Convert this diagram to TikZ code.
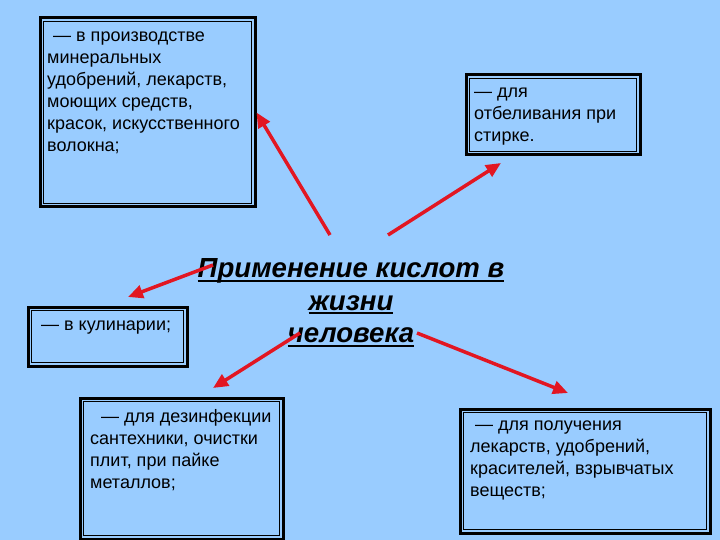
\documentclass[tikz,border=0pt]{standalone}
\usepackage{fontspec}
\setmainfont{Liberation Sans}
\usetikzlibrary{arrows.meta}

\definecolor{skyback}{RGB}{153,204,255}
\definecolor{arrowred}{RGB}{226,22,34}
%% thick underline for the title lines
\newcommand\undl[1]{\setbox0\hbox{#1}\rlap{\rule[-4pt]{\wd0}{2.4pt}}\box0}

\tikzset{
  usebox/.style={draw=black, line width=3pt, fill=skyback, inner sep=0pt},
  innerframe/.style={draw=black, line width=1.1pt},
  usetext/.style={font=\fontsize{18}{22}\selectfont, align=left, inner sep=0pt, anchor=north west},
  headline/.style={font=\fontsize{27.6}{32.5}\selectfont\bfseries\itshape, align=center, inner sep=0pt},
  usearrow/.style={draw=arrowred, line width=3.5pt, -{Triangle[length=15pt,width=13pt]}}
}

\begin{document}
\begin{tikzpicture}[x=1pt,y=-1pt]
\useasboundingbox[fill=skyback] (0,0) rectangle (720,540);

%% five boxes with double frame
\node[usebox, minimum width=215, minimum height=189] (prod) at (147.5,112.5) {};
\node[usebox, minimum width=174, minimum height=80] (bleach) at (553,115) {};
\node[usebox, minimum width=159, minimum height=59] (cook) at (107.5,336.5) {};
\node[usebox, minimum width=203, minimum height=141] (disinf) at (181.5,468.5) {};
\node[usebox, minimum width=250, minimum height=124] (drugs) at (585,471) {};
\foreach \b in {prod,bleach,cook,disinf,drugs}
  \draw[innerframe] ([shift={(5,5)}]\b.north west) rectangle ([shift={(-5,-5)}]\b.south east);

%% texts in the boxes
\node[usetext] (prodtxt) at (47,32) {\hspace*{6pt}— в производстве\\минеральных\\удобрений, лекарств,\\моющих средств,\\красок, искусственного\\волокна;};
\node[usetext] (bleachtxt) at (474,88) {— для\\отбеливания при\\стирке.};
\node[usetext] (cooktxt) at (41,321) {— в кулинарии;};
\node[usetext] (disinftxt) at (90,409) {\hspace*{11pt}— для дезинфекции\\сантехники, очистки\\плит, при пайке\\металлов;};
\node[usetext] (drugstxt) at (470,421) {\hspace*{5pt}— для получения\\лекарств, удобрений,\\красителей, взрывчатых\\веществ;};

%% title in the middle
\node[headline] (head) at (351,303) {\undl{Применение кислот в}\\\undl{жизни}\\\undl{человека}};

%% arrows from the title
\coordinate (s1) at (330,235);
\coordinate (s2) at (388,235);
\coordinate (s3) at (213,265);
\coordinate (s4) at (300,333);
\coordinate (s5) at (417,333);
\coordinate (e2) at (501,163);
\coordinate (e3) at (128,297);
\coordinate (e4) at (213,388);
\coordinate (e5) at (568,393);
\draw[usearrow] (s1) -- (prod.east);
\draw[usearrow] (s2) -- (e2);
\draw[usearrow] (s3) -- (e3);
\draw[usearrow] (s4) -- (e4);
\draw[usearrow] (s5) -- (e5);
\end{tikzpicture}
\end{document}
